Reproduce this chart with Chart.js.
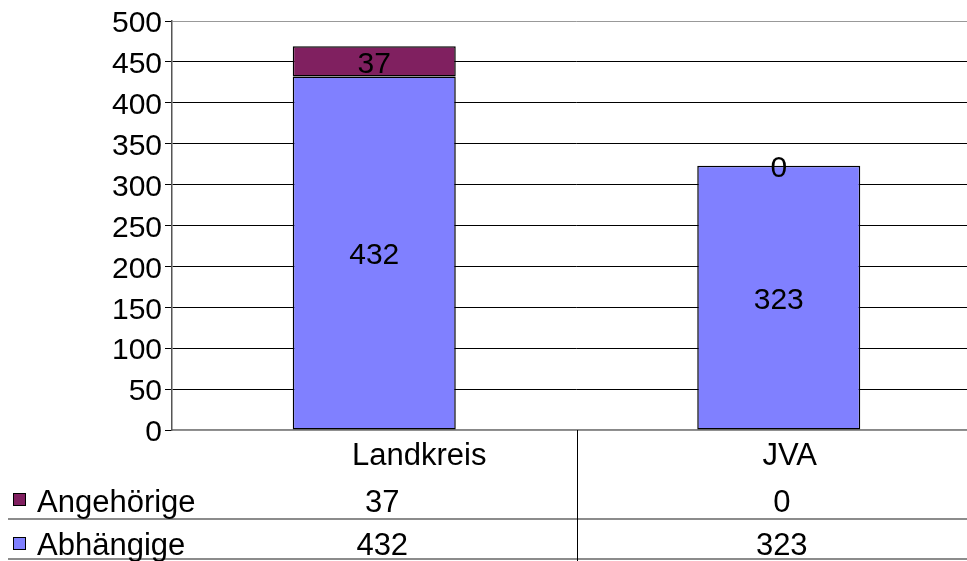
<!DOCTYPE html>
<html>
<head>
<meta charset="utf-8">
<script src="https://cdn.jsdelivr.net/npm/chart.js@4"></script>
<style>
  body { margin: 0; overflow: hidden; background: #fff; }
  #wrap { width: 967px; height: 561px; overflow: hidden; }
</style>
</head>
<body>
<div id="wrap"><canvas id="barChart" width="981" height="561"></canvas></div>
<script>
const categories = ['Landkreis', 'JVA'];
const seriesNames = ['Abhängige', 'Angehörige'];
const abhaengige = [432, 323];
const angehoerige = [37, 0];
const seriesColors = ['#8080ff', '#802060'];
const yTicks = [0, 50, 100, 150, 200, 250, 300, 350, 400, 450, 500];

const FONT = '"Liberation Sans", Arial, sans-serif';

// numbers written into the middle of each bar segment
const segmentLabels = {
  id: 'segmentLabels',
  afterDatasetsDraw(chart) {
    const c = chart.ctx;
    c.save();
    c.font = '30px ' + FONT;
    c.fillStyle = '#000';
    c.textAlign = 'center';
    c.textBaseline = 'middle';
    chart.data.datasets.forEach((ds, di) => {
      chart.getDatasetMeta(di).data.forEach((bar, i) => {
        c.fillText(String(ds.data[i]), bar.x, (bar.y + bar.base) / 2 + 3);
      });
    });
    c.restore();
  }
};

// data table under the plot
const dataTable = {
  id: 'dataTable',
  afterDraw(chart) {
    const c = chart.ctx;
    const x = chart.scales.x;
    const area = chart.chartArea;
    const W = chart.width;
    const headOffset = [45, 11];
    const valOffset = [8, 3];
    c.save();
    // grid of table
    c.strokeStyle = '#666';
    c.lineWidth = 1.5;
    [519, 559].forEach(y => {
      c.beginPath(); c.moveTo(8, y); c.lineTo(W, y); c.stroke();
    });
    c.strokeStyle = '#000';
    c.lineWidth = 1;
    for (let i = 0; i < categories.length - 1; i++) {
      const bx = Math.round((x.getPixelForValue(i) + x.getPixelForValue(i + 1)) / 2) + 0.5;
      c.beginPath(); c.moveTo(bx, area.bottom); c.lineTo(bx, 561); c.stroke();
    }
    c.font = '31px ' + FONT;
    c.fillStyle = '#000';
    c.textAlign = 'center';
    c.textBaseline = 'alphabetic';
    categories.forEach((cat, i) => {
      c.fillText(cat, x.getPixelForValue(i) + headOffset[i], 465);
    });
    const rows = [
      { name: seriesNames[1], color: seriesColors[1], vals: angehoerige, base: 512, box: 494 },
      { name: seriesNames[0], color: seriesColors[0], vals: abhaengige, base: 555, box: 538 }
    ];
    rows.forEach(r => {
      c.fillStyle = r.color;
      c.fillRect(14, r.box, 11, 11);
      c.strokeStyle = '#000';
      c.lineWidth = 1;
      c.strokeRect(13.5, r.box - 0.5, 12, 12);
      c.fillStyle = '#000';
      c.textAlign = 'left';
      c.fillText(r.name, 37, r.base);
      c.textAlign = 'center';
      r.vals.forEach((v, i) => {
        c.fillText(String(v), x.getPixelForValue(i) + valOffset[i], r.base);
      });
    });
    c.restore();
  }
};

const ctx = document.getElementById('barChart').getContext('2d');
const barChart = new Chart(ctx, {
  type: 'bar',
  data: {
    labels: categories,
    datasets: [
      { label: seriesNames[0], data: abhaengige, backgroundColor: seriesColors[0] },
      { label: seriesNames[1], data: angehoerige, backgroundColor: seriesColors[1] }
    ].map(d => Object.assign(d, {
      borderColor: '#000',
      borderWidth: 1.5,
      borderSkipped: false,
      categoryPercentage: 1,
      barPercentage: 0.403
    }))
  },
  options: {
    responsive: false,
    animation: false,
    layout: { padding: { top: 20, right: 0, left: 0, bottom: 0 } },
    plugins: {
      legend: { display: false },
      tooltip: { enabled: false }
    },
    scales: {
      x: {
        stacked: true,
        grid: { display: false },
        border: { color: '#888', width: 1.5 },
        ticks: { display: false },
        afterFit(scale) { scale.height = 131; }
      },
      y: {
        stacked: true,
        min: 0,
        max: 500,
        afterBuildTicks(scale) { scale.ticks = yTicks.map(v => ({ value: v })); },
        afterFit(scale) { scale.width = 172; },
        border: { color: '#555', width: 1.5 },
        grid: {
          color: c => (c.tick && (c.tick.value === 500 || c.tick.value === 0)) ? '#999' : '#000',
          tickColor: '#000',
          tickLength: 7,
          lineWidth: 1
        },
        ticks: {
          color: '#000',
          padding: 3,
          labelOffset: 3,
          font: { family: FONT, size: 30 }
        }
      }
    }
  },
  plugins: [segmentLabels, dataTable]
});
</script>
</body>
</html>
